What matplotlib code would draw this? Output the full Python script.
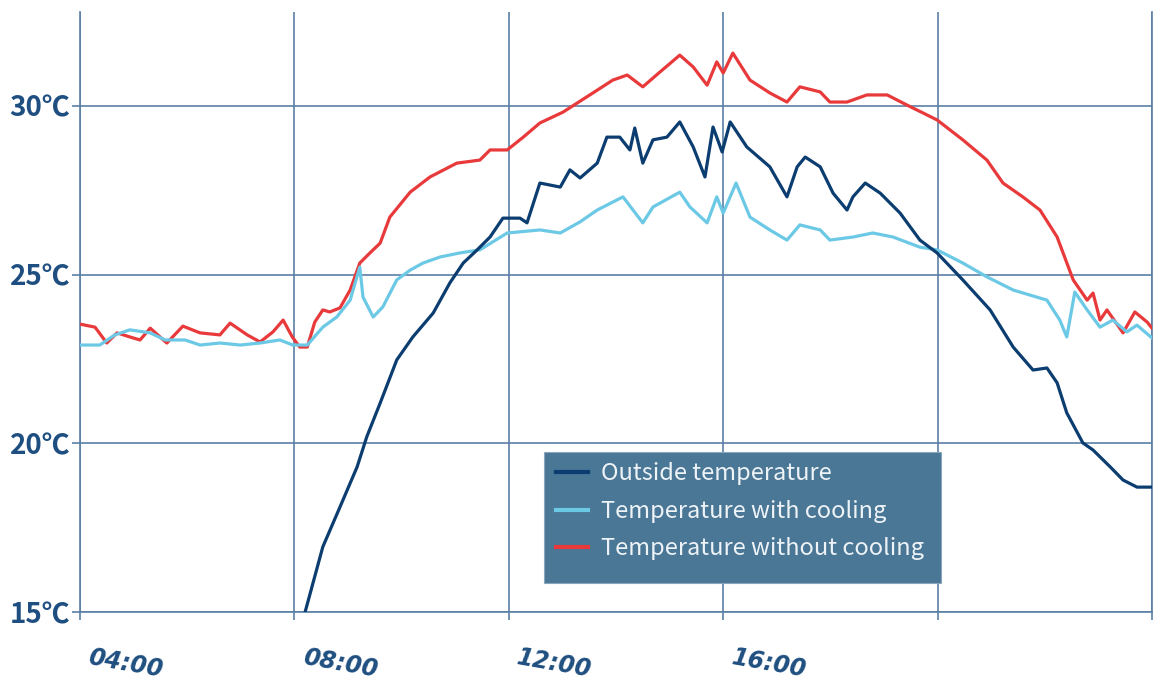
import matplotlib
matplotlib.use("Agg")
import matplotlib.pyplot as plt
from matplotlib.patches import Rectangle
from matplotlib.lines import Line2D

# ---------------- data ----------------
hours_without = [4.00, 4.28, 4.50, 4.69, 4.93, 5.12, 5.31, 5.62, 5.92, 6.24, 6.61, 6.80, 7.12, 7.36,
                 7.60, 7.79, 7.96, 8.10, 8.24, 8.38, 8.53, 8.66, 8.85, 9.04, 9.22, 9.41, 9.60, 9.78,
                 10.16, 10.53, 11.03, 11.46, 11.65, 11.97, 12.27, 12.58, 13.01, 13.57, 13.94, 14.21,
                 14.50, 14.82, 15.19, 15.44, 15.70, 15.88, 16.00, 16.18, 16.50, 16.87, 17.19, 17.43,
                 17.81, 17.99, 18.31, 18.68, 19.06, 19.43, 19.99, 20.47, 20.92, 21.22, 21.59, 21.91,
                 22.23, 22.53, 22.79, 22.90, 23.03, 23.16, 23.46, 23.68, 23.91, 24.00]
temp_without = [23.53, 23.44, 22.97, 23.27, 23.15, 23.06, 23.41, 22.97, 23.47, 23.27, 23.21, 23.56, 23.21, 23.00,
                 23.30, 23.65, 23.15, 22.85, 22.85, 23.59, 23.95, 23.89, 24.01, 24.54, 25.34, 25.64, 25.93, 26.70,
                 27.44, 27.89, 28.30, 28.39, 28.69, 28.69, 29.07, 29.49, 29.81, 30.38, 30.76, 30.91,
                 30.56, 31.00, 31.50, 31.15, 30.61, 31.30, 30.97, 31.56, 30.76, 30.38, 30.11, 30.56,
                 30.41, 30.11, 30.11, 30.32, 30.32, 30.02, 29.58, 28.99, 28.39, 27.71, 27.30, 26.91,
                 26.11, 24.84, 24.24, 24.45, 23.65, 23.95, 23.27, 23.89, 23.59, 23.41]

hours_with = [4.00, 4.37, 4.65, 4.93, 5.31, 5.59, 5.96, 6.24, 6.61, 6.99, 7.36, 7.73, 7.97, 8.24,
              8.53, 8.79, 9.04, 9.22, 9.28, 9.47, 9.65, 9.91, 10.16, 10.40, 10.72, 11.09, 11.46, 11.97,
              12.58, 12.96, 13.33, 13.65, 14.13, 14.50, 14.69, 15.19, 15.38, 15.70, 15.88, 16.00,
              16.24, 16.50, 16.87, 17.19, 17.43, 17.81, 17.99, 18.42, 18.79, 19.17, 19.67, 19.99,
              20.47, 20.92, 21.41, 22.04, 22.28, 22.41, 22.56, 22.79, 23.03, 23.27, 23.53, 23.72, 24.00]
temp_with = [22.91, 22.91, 23.21, 23.36, 23.27, 23.06, 23.06, 22.91, 22.97, 22.91, 22.97, 23.06, 22.91, 22.91,
             23.44, 23.74, 24.24, 25.22, 24.33, 23.74, 24.04, 24.84, 25.13, 25.34, 25.52, 25.64, 25.73, 26.23,
             26.32, 26.23, 26.56, 26.91, 27.30, 26.53, 27.00, 27.44, 27.00, 26.53, 27.30, 26.82,
             27.71, 26.70, 26.32, 26.02, 26.47, 26.32, 26.02, 26.11, 26.23, 26.11, 25.81, 25.73,
             25.34, 24.93, 24.54, 24.24, 23.65, 23.15, 24.48, 23.95, 23.44, 23.65, 23.30, 23.50, 23.12]

hours_outside = [8.20, 8.53, 8.85, 9.17, 9.35, 9.60, 9.91, 10.21, 10.59, 10.90, 11.15, 11.41, 11.65, 11.89,
                 12.21, 12.34, 12.58, 12.96, 13.14, 13.33, 13.65, 13.83, 14.07, 14.26, 14.35, 14.50,
                 14.69, 14.95, 15.19, 15.44, 15.66, 15.81, 15.98, 16.13, 16.44, 16.87, 17.19, 17.38,
                 17.53, 17.81, 18.05, 18.31, 18.42, 18.65, 18.93, 19.30, 19.67, 19.99, 20.47, 20.98,
                 21.41, 21.78, 22.04, 22.23, 22.41, 22.71, 22.90, 23.22, 23.46, 23.72, 24.00]
temp_outside = [15.00, 16.93, 18.11, 19.30, 20.19, 21.19, 22.47, 23.15, 23.86, 24.75, 25.34, 25.73, 26.11, 26.67,
                26.67, 26.53, 27.71, 27.59, 28.10, 27.86, 28.30, 29.07, 29.07, 28.69, 29.34, 28.30,
                28.99, 29.07, 29.52, 28.78, 27.89, 29.37, 28.63, 29.52, 28.78, 28.19, 27.30, 28.19,
                28.48, 28.19, 27.41, 26.91, 27.30, 27.71, 27.41, 26.82, 26.02, 25.64, 24.84, 23.95,
                22.85, 22.17, 22.23, 21.79, 20.90, 20.01, 19.80, 19.30, 18.91, 18.70, 18.70]

y_ticks = [15, 20, 25, 30]
y_labels = ["15℃", "20℃", "25℃", "30℃"]
x_grid = [4, 8, 12, 16, 20, 24]
x_label_hours = [4, 8, 12, 16]
x_labels = ["04:00", "08:00", "12:00", "16:00"]
legend_labels = ["Outside temperature", "Temperature with cooling", "Temperature without cooling"]

# ---------------- style ----------------
c_out = "#0c3d70"
c_with = "#6cc9e6"
c_without = "#e8393b"
c_grid = "#5b7fa6"
c_text = "#1f4f80"

fig = plt.figure(figsize=(11.54, 6.81), dpi=100)
ax = fig.add_axes([80 / 1154, 69 / 681, 1072 / 1154, 600 / 681])
ax.set_xlim(4, 24)
ax.set_ylim(15, 15 + 600 / 33.75)

ax.plot(hours_without, temp_without, color=c_without, lw=2.3, zorder=3)
ax.plot(hours_with, temp_with, color=c_with, lw=2.3, zorder=3)
ax.plot(hours_outside, temp_outside, color=c_out, lw=2.3, zorder=4)

ax.set_xticks(x_grid)
ax.set_xticklabels([])
ax.set_yticks(y_ticks)
ax.set_yticklabels(y_labels, fontsize=20, fontweight="bold", color=c_text,
                   family=["Noto Sans CJK SC", "DejaVu Sans"])
ax.tick_params(axis="both", direction="out", length=6, width=1.2, color=c_grid, pad=1)
ax.grid(True, color=c_grid, lw=1.2)
for s in ["left", "bottom", "right"]:
    ax.spines[s].set_color(c_grid)
    ax.spines[s].set_linewidth(1.2)
ax.spines["top"].set_visible(False)

for h, lab in zip(x_label_hours, x_labels):
    ax.annotate(lab, xy=(h, 0), xycoords=("data", "axes fraction"),
                xytext=(46, -52), textcoords="offset pixels",
                ha="center", va="center", rotation=-10,
                fontsize=17, fontweight="bold", fontstyle="italic", color=c_text,
                family=["DejaVu Sans"])

# legend box
x0 = (544 - 80) / 1072
y0 = (612 - 583) / 600
w = (941 - 544) / 1072
h = (583 - 452) / 600
ax.add_patch(Rectangle((x0, y0), w, h, transform=ax.transAxes, facecolor="#4a7795",
                       edgecolor="#8aa6bd", lw=0.8, zorder=5))
handles = [Line2D([], [], color=c, lw=3) for c in (c_out, c_with, c_without)]
leg = ax.legend(handles, legend_labels, loc="upper left",
                bbox_to_anchor=(x0 + 0.004, y0 + h - 0.004), frameon=False,
                prop={"family": ["Noto Sans CJK SC"], "size": 17}, labelcolor="#eef3f7",
                handlelength=1.35, handletextpad=0.55, labelspacing=0.62,
                borderpad=0.33, borderaxespad=0)
leg.set_zorder(6)

fig.savefig("out.png", dpi=100)
